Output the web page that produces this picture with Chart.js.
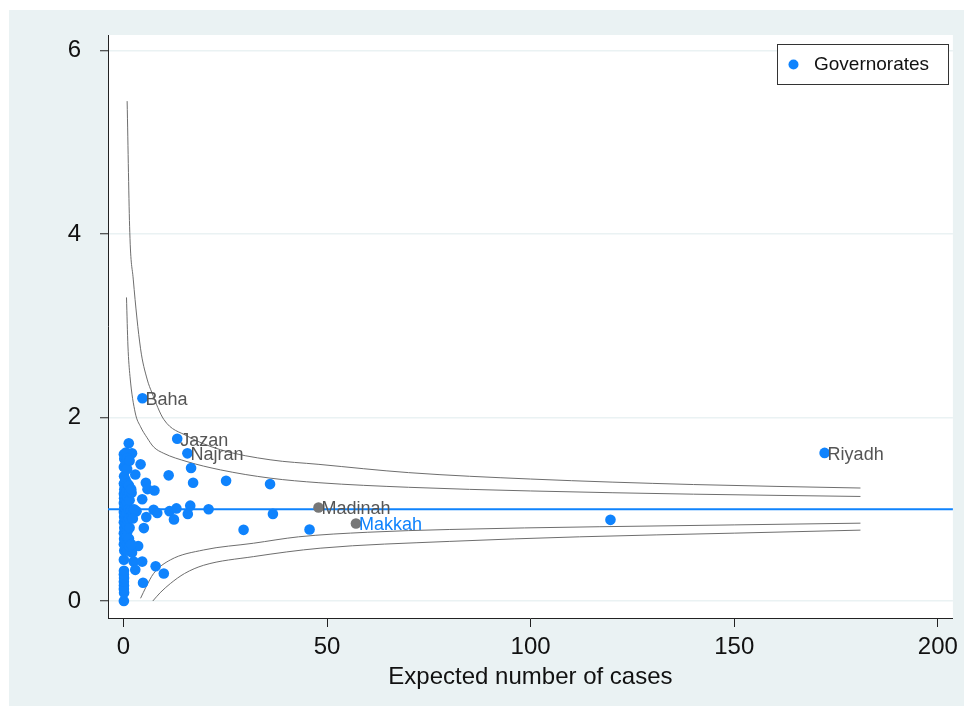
<!DOCTYPE html>
<html><head><meta charset="utf-8">
<script src="https://cdn.jsdelivr.net/npm/chart.js@4.4.1/dist/chart.umd.min.js"></script>
<style>html,body{margin:0;padding:0;background:#fff;}canvas{display:block}</style>
</head>
<body><canvas id="c" width="964" height="706"></canvas>
<script>
// ---------- DATA ----------
const xTicks = [0, 50, 100, 150, 200];
const yTicks = [0, 2, 4, 6];
const xTitle = 'Expected number of cases';
const legendLabel = 'Governorates';

// Named governorates (blue) [expected, ratio]
const namedGovNames = ['Baha', 'Jazan', 'Najran', 'Riyadh'];
const namedGovExpected = [4.66, 13.2, 15.7, 172.2];
const namedGovRatio = [2.21, 1.77, 1.61, 1.615];

// Named regions (grey points)
const regionNames = ['Madinah', 'Makkah'];
const regionExpected = [47.9, 57.1];
const regionRatio = [1.02, 0.845];

// Other governorates [expected, ratio]
const governorates = [
  [16.6,1.45],[11.1,1.37],[17.1,1.29],[25.2,1.31],[36.0,1.275],[4.2,1.49],[2.9,1.38],
  [1.3,1.72],[2.1,1.61],[5.5,1.29],[5.9,1.22],[7.6,1.205],[4.6,1.11],[7.4,0.995],
  [8.3,0.96],[5.6,0.915],[11.3,0.98],[13.0,1.01],[12.4,0.89],[15.8,0.95],[16.4,1.04],
  [20.9,1.0],[29.5,0.776],[36.7,0.95],[45.7,0.78],[119.6,0.885],[5.0,0.795],[3.6,0.60],
  [1.7,0.61],[2.1,0.53],[2.5,0.43],[4.6,0.43],[2.9,0.34],[7.9,0.38],[9.9,0.30],[4.8,0.20],[3.2,0.98],
  [0.1,0.0],[0.15,0.09],[0.1,0.13],[0.12,0.17],[0.1,0.21],[0.14,0.25],[0.1,0.29],[0.12,0.33],
  [0.1,0.45],[0.2,0.55],[0.1,0.62],[0.15,0.68],[0.1,0.74],[0.2,0.8],[0.1,0.86],[0.15,0.92],
  [0.1,0.97],[0.2,1.02],[0.1,1.07],[0.15,1.12],[0.1,1.17],[0.2,1.22],[0.1,1.28],[0.15,1.36],
  [0.1,1.46],[0.2,1.55],[0.1,1.6],
  [0.5,0.58],[0.55,0.66],[0.45,0.72],[0.6,0.78],[0.5,0.84],[0.55,0.9],[0.45,0.94],[0.6,1.0],
  [0.5,1.05],[0.55,1.1],[0.45,1.16],[0.6,1.24],[0.5,1.32],[0.55,1.5],[0.6,1.62],
  [0.9,0.55],[0.95,0.62],[0.85,0.7],[1.0,0.76],[0.9,0.83],[0.95,0.88],[0.85,0.96],[1.0,1.03],
  [0.9,1.08],[0.95,1.14],[0.85,1.2],[1.0,1.28],[0.9,1.44],[0.95,1.56],
  [1.4,0.6],[1.35,0.68],[1.5,0.8],[1.4,0.9],[1.45,0.97],[1.3,1.0],[1.5,1.1],[1.4,1.19],
  [1.35,1.26],[1.5,1.53],
  [1.9,0.62],[2.0,0.93],[1.85,0.99],[2.0,1.18],[1.9,1.22],
  [2.4,0.96],[2.6,1.0],[2.3,0.9]
];

// Funnel control limits [expected, ratio]
const upper998 = [[0.9,5.45],[1.55,4.02],[2.4,3.51],[4.2,2.75],[5.8,2.42],[7.0,2.27],[9.9,1.98],
  [15.6,1.80],[23.8,1.65],[36,1.54],[48,1.49],[70,1.40],[100,1.33],[140,1.27],[181,1.232]];
const upper95 = [[0.74,3.31],[1.1,2.78],[1.6,2.45],[2.9,2.05],[4.2,1.9],[5.8,1.78],[7.4,1.68],
  [9.9,1.61],[15.6,1.52],[23.8,1.43],[36,1.34],[48,1.29],[70,1.24],[100,1.20],[140,1.165],[181,1.14]];
const lower95 = [[4.2,0.03],[5.5,0.15],[7.4,0.30],[11.5,0.448],[19.7,0.557],[31.9,0.63],[43,0.70],
  [60,0.75],[80,0.78],[117,0.81],[150,0.83],[181,0.849]];
const lower998 = [[7.2,0.0],[9,0.09],[11.5,0.19],[15,0.30],[19.7,0.39],[31.9,0.484],[48.3,0.576],
  [80,0.65],[112,0.70],[150,0.74],[181,0.773]];
const referenceRatio = 1;

// ---------- STYLE ----------
const BLUE = '#0F83FD';
const GREY_PT = '#777777';
const LABEL_GREY = '#555555';
const LINE_GREY = '#6e6e6e';
const BG = '#EAF2F3';
const FONT = "'Liberation Sans', Arial, Helvetica, sans-serif";
const X_MIN = -3.8, X_MAX = 203.7, Y_MIN = -0.185, Y_MAX = 6.171;

const toPts = arr => arr.map(([x, y]) => ({x, y}));

const bgPlugin = {
  id: 'bg',
  beforeDraw(chart) {
    const ctx = chart.ctx, a = chart.chartArea;
    ctx.save();
    ctx.fillStyle = '#fff';
    ctx.fillRect(0, 0, chart.width, chart.height);
    ctx.fillStyle = BG;
    ctx.fillRect(9, 10, chart.width - 9, chart.height - 10);
    ctx.fillStyle = '#fff';
    ctx.fillRect(a.left, a.top, a.right - a.left, a.bottom - a.top);
    ctx.restore();
  }
};

const labelPlugin = {
  id: 'labels',
  afterDatasetsDraw(chart) {
    const ctx = chart.ctx, xs = chart.scales.x, ys = chart.scales.y;
    ctx.save();
    ctx.font = '18px ' + FONT;
    ctx.textAlign = 'left';
    ctx.textBaseline = 'middle';
    const draw = (name, x, y, color) => {
      ctx.fillStyle = color;
      ctx.fillText(name, xs.getPixelForValue(x) + 3, ys.getPixelForValue(y) + 2);
    };
    namedGovNames.forEach((n, i) => draw(n, namedGovExpected[i], namedGovRatio[i], LABEL_GREY));
    regionNames.forEach((n, i) => draw(n, regionExpected[i], regionRatio[i], n === 'Makkah' ? BLUE : LABEL_GREY));
    // legend
    const lx = 777, ly = 44, lw = 171, lh = 40;
    ctx.fillStyle = '#fff';
    ctx.fillRect(lx, ly, lw, lh);
    ctx.strokeStyle = '#333';
    ctx.lineWidth = 1;
    ctx.strokeRect(lx + 0.5, ly + 0.5, lw, lh);
    ctx.fillStyle = BLUE;
    ctx.beginPath();
    ctx.arc(lx + 16.5, ly + 20.5, 5, 0, Math.PI * 2);
    ctx.fill();
    ctx.fillStyle = '#111';
    ctx.font = '19px ' + FONT;
    ctx.fillText(legendLabel, lx + 37, ly + 21);
    ctx.restore();
  }
};

const lineDs = (arr) => ({
  data: toPts(arr), showLine: true, pointRadius: 0, borderColor: LINE_GREY, borderWidth: 1,
  cubicInterpolationMode: 'monotone', order: 3
});

new Chart(document.getElementById('c'), {
  type: 'scatter',
  data: {
    datasets: [
      { label: legendLabel,
        data: toPts(governorates).concat(namedGovExpected.map((x, i) => ({x, y: namedGovRatio[i]}))),
        backgroundColor: BLUE, pointRadius: 5.3, borderWidth: 0, order: 0 },
      { label: 'Regions', data: regionExpected.map((x, i) => ({x, y: regionRatio[i]})),
        backgroundColor: GREY_PT, pointRadius: 5.3, borderWidth: 0, order: 1 },
      { label: 'ref', data: [{x: X_MIN, y: referenceRatio}, {x: X_MAX, y: referenceRatio}],
        showLine: true, pointRadius: 0, borderColor: BLUE, borderWidth: 2, order: 2 },
      lineDs(upper998), lineDs(upper95), lineDs(lower95), lineDs(lower998)
    ]
  },
  options: {
    responsive: false, animation: false, events: [],
    layout: { padding: { left: 8, top: 35, right: 9, bottom: 0 } },
    plugins: { legend: { display: false }, tooltip: { enabled: false } },
    scales: {
      x: {
        type: 'linear', min: X_MIN, max: X_MAX,
        afterBuildTicks: s => { s.ticks = xTicks.map(v => ({value: v})); },
        afterFit: s => { s.height = 88; },
        grid: { drawOnChartArea: false, tickLength: 9, tickWidth: 1, tickColor: '#222' },
        border: { color: '#222', width: 1 },
        ticks: { font: { size: 24, family: FONT }, color: '#111', padding: 6, maxRotation: 0, autoSkip: false },
        title: { display: true, text: xTitle, font: { size: 24, family: FONT }, color: '#111', padding: { top: 0, bottom: 14 } }
      },
      y: {
        type: 'linear', min: Y_MIN, max: Y_MAX,
        afterBuildTicks: s => { s.ticks = yTicks.map(v => ({value: v})); },
        afterFit: s => { s.width = 100; },
        grid: { color: BG, lineWidth: 1.5, tickLength: 8, tickWidth: 1, tickColor: '#222' },
        border: { color: '#222', width: 1 },
        ticks: { font: { size: 24, family: FONT }, color: '#111', padding: 19 }
      }
    }
  },
  plugins: [bgPlugin, labelPlugin]
});
</script>
</body></html>
